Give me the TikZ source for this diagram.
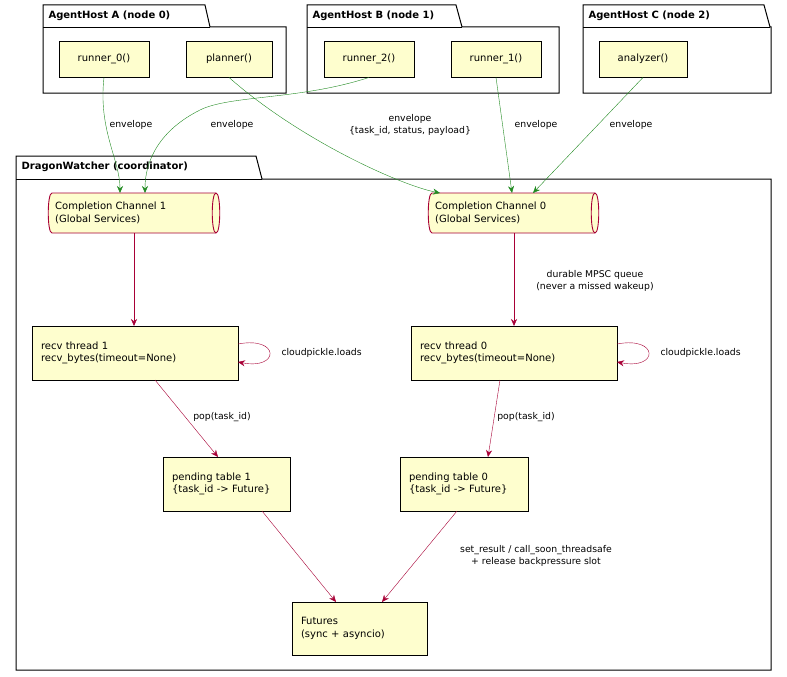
\documentclass[tikz,border=0pt]{standalone}
\usepackage{fontspec}
\setmainfont{DejaVu Sans}
\usetikzlibrary{arrows.meta}
\definecolor{nf}{HTML}{FEFECE}
\definecolor{rd}{HTML}{A80036}
\definecolor{gr}{HTML}{228B22}
\begin{document}
\begin{tikzpicture}[x=1pt,y=-1pt,
  box/.style={draw=black,fill=nf,line width=0.9pt,align=left,font=\fontsize{10}{12.5}\selectfont,inner xsep=9pt,inner ysep=0pt,anchor=center},
  cbox/.style={box,align=center,inner xsep=0pt},
  cyl/.style={align=left,font=\fontsize{10}{12.5}\selectfont,inner xsep=7pt,inner ysep=0pt},
  pkg/.style={draw=black,line width=1pt,fill=white},
  pt/.style={font=\bfseries\fontsize{10}{12}\selectfont,anchor=west},
  lb/.style={font=\fontsize{9.3}{11.3}\selectfont,align=center},
  ge/.style={draw=gr,-{Stealth[length=7pt,width=6pt]}},
  re/.style={draw=rd,-{Stealth[length=7pt,width=6pt]}}]
\useasboundingbox (0,0) rectangle (787,677);
% packages
\draw[pkg] (43,5) -- (205,5) -- (210,27) -- (286,27) -- (286,93) -- (43,93) -- cycle;
\draw (43,27) -- (210,27);
\node[pt] at (45,16) {AgentHost A (node 0)};
\draw[pkg] (307,5) -- (456,5) -- (462,27) -- (559,27) -- (559,93) -- (307,93) -- cycle;
\draw (307,27) -- (462,27);
\node[pt] at (309,16) {AgentHost B (node 1)};
\draw[pkg] (583,5) -- (764,5) -- (770,27) -- (771,27) -- (771,93) -- (583,93) -- cycle;
\draw (583,27) -- (770,27);
\node[pt] at (585,16) {AgentHost C (node 2)};
\draw[pkg] (16,156) -- (256,156) -- (262,179) -- (771,179) -- (771,670) -- (16,670) -- cycle;
\draw (16,179) -- (262,179);
\node[pt] at (18,167) {DragonWatcher (coordinator)};
% nodes
\node[cbox,minimum width=90pt,minimum height=36pt] (r0) at (104,59) {runner\_0()};
\node[cbox,minimum width=86pt,minimum height=36pt] (pl) at (229,59) {planner()};
\node[cbox,minimum width=90pt,minimum height=36pt] (r2) at (369,59) {runner\_2()};
\node[cbox,minimum width=90pt,minimum height=36pt] (r1) at (496,59) {runner\_1()};
\node[cbox,minimum width=88pt,minimum height=36pt] (an) at (643,59) {analyzer()};
% cylinders
\draw[draw=rd,fill=nf,line width=0.9pt] (52,193) -- (216,193) .. controls (221,193) and (221,233) .. (216,233) -- (52,233) .. controls (47,233) and (47,193) .. (52,193) -- cycle;
\draw[draw=rd,line width=0.9pt] (216,193) .. controls (211,193) and (211,233) .. (216,233);
\node[cyl,anchor=west] (c1) at (48,213) {Completion Channel 1\\(Global Services)};
\draw[draw=rd,fill=nf,line width=0.9pt] (432,193) -- (595,193) .. controls (600,193) and (600,233) .. (595,233) -- (432,233) .. controls (427,233) and (427,193) .. (432,193) -- cycle;
\draw[draw=rd,line width=0.9pt] (595,193) .. controls (590,193) and (590,233) .. (595,233);
\node[cyl,anchor=west] (c0) at (428,213) {Completion Channel 0\\(Global Services)};
\node[box,minimum width=206pt,minimum height=54pt,text width=188pt] (v1) at (135,353) {recv thread 1\\recv\_bytes(timeout=None)};
\node[box,minimum width=206pt,minimum height=54pt,text width=188pt] (v0) at (514,353) {recv thread 0\\recv\_bytes(timeout=None)};
\node[box,minimum width=127pt,minimum height=54pt,text width=109pt] (p1) at (226.5,484) {pending table 1\\\{task\_id -> Future\}};
\node[box,minimum width=128pt,minimum height=54pt,text width=110pt] (p0) at (464,484) {pending table 0\\\{task\_id -> Future\}};
\node[box,minimum width=135pt,minimum height=53pt,text width=117pt] (fu) at (359.5,628.5) {Futures\\(sync + asyncio)};
% green edges
\draw[ge] (r0.south) .. controls (98,130) and (120,160) .. (120,193);
\draw[ge] (r2.south) .. controls (300,100) and (230,95) .. (200,110) .. controls (160,130) and (145,160) .. (145,193);
\draw[ge] (pl.south) .. controls (300,140) and (400,185) .. (440,193);
\draw[ge] (r1.south) -- (512,193);
\draw[ge] (an.south) -- (533,193);
\node[lb] at (131,125) {envelope};
\node[lb] at (232,125) {envelope};
\node[lb] at (410,125) {envelope\\\{task\_id, status, payload\}};
\node[lb] at (536,125) {envelope};
\node[lb] at (631,125) {envelope};
% red edges
\draw[re] (134,233) -- (134,326);
\draw[re] (514,233) -- (514,326);
\node[lb] at (595,281) {durable MPSC queue\\(never a missed wakeup)};
\draw[re] (238,344) .. controls (280,336) and (280,370) .. (238,362);
\node[lb,anchor=west] at (278,353) {cloudpickle.loads};
\draw[re] (617,344) .. controls (659,336) and (659,370) .. (617,362);
\node[lb,anchor=west] at (657,353) {cloudpickle.loads};
\draw[re] (155,380) -- (218,457);
\node[lb] at (222,417) {pop(task\_id)};
\draw[re] (500,380) -- (488,457);
\node[lb] at (526,417) {pop(task\_id)};
\draw[re] (262,511) -- (336,602);
\draw[re] (457,511) -- (382,602);
\node[lb] at (536,556) {set\_result / call\_soon\_threadsafe\\+ release backpressure slot};
\end{tikzpicture}
\end{document}
